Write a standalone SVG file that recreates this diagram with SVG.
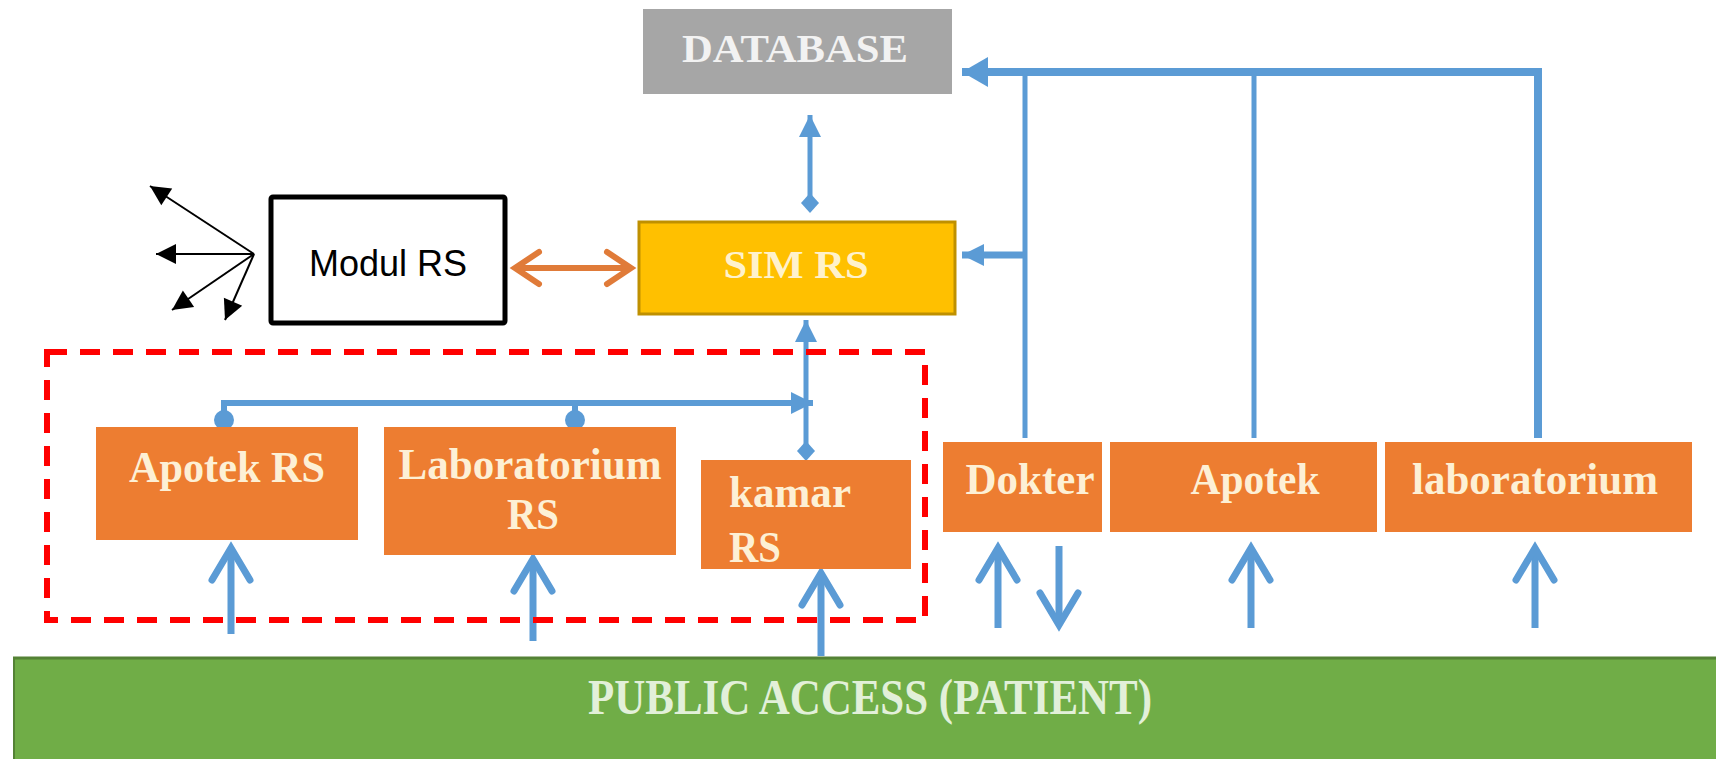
<svg xmlns="http://www.w3.org/2000/svg" width="1716" height="759" viewBox="0 0 1716 759">
<style>
.serif{font-family:"Liberation Serif","Times New Roman",serif;font-weight:bold}
.orange{fill:#ed7d31}
.otxt{fill:#fdf0d5;font-size:44px}
.blue{stroke:#5b9bd5;fill:none}
.up{stroke:#5b9bd5;stroke-width:7;fill:none;marker-end:url(#chev)}
.blk{stroke:#000;stroke-width:2;fill:none;marker-end:url(#btri)}
</style>
<defs>
<marker id="chev" markerUnits="userSpaceOnUse" markerWidth="80" markerHeight="80" viewBox="-40 -40 80 80" refX="0" refY="0" orient="auto" overflow="visible">
<path d="M-32,-19 L0,0 L-32,19" fill="none" stroke="#5b9bd5" stroke-width="7" stroke-linecap="round"/>
</marker>
<marker id="ochev" markerUnits="userSpaceOnUse" markerWidth="80" markerHeight="80" viewBox="-40 -40 80 80" refX="0" refY="0" orient="auto-start-reverse" overflow="visible">
<path d="M-24,-16 L0,0 L-24,16" fill="none" stroke="#e07b39" stroke-width="6" stroke-linecap="round"/>
</marker>
<marker id="tri" markerUnits="userSpaceOnUse" markerWidth="80" markerHeight="80" viewBox="-40 -40 80 80" refX="0" refY="0" orient="auto" overflow="visible">
<path d="M-26,-15 L0,0 L-26,15 Z" fill="#5b9bd5"/>
</marker>
<marker id="stri" markerUnits="userSpaceOnUse" markerWidth="60" markerHeight="60" viewBox="-30 -30 60 60" refX="0" refY="0" orient="auto" overflow="visible">
<path d="M-22,-11 L0,0 L-22,11 Z" fill="#5b9bd5"/>
</marker>
<marker id="dia" markerUnits="userSpaceOnUse" markerWidth="40" markerHeight="40" viewBox="-20 -20 40 40" refX="0" refY="0" orient="auto" overflow="visible">
<path d="M-10,0 L0,-9 L10,0 L0,9 Z" fill="#5b9bd5"/>
</marker>
<marker id="btri" markerUnits="userSpaceOnUse" markerWidth="40" markerHeight="40" viewBox="-20 -20 40 40" refX="0" refY="0" orient="auto" overflow="visible">
<path d="M-20,-10 L0,0 L-20,10 Z" fill="#000"/>
</marker>
</defs>
<rect width="1716" height="759" fill="#fff"/>

<g id="public-access">
<rect x="13" y="657" width="1703" height="102" fill="#70ad47"/>
<line x1="13" y1="658" x2="1716" y2="658" stroke="#548235" stroke-width="3"/>
<line x1="14" y1="657" x2="14" y2="759" stroke="#548235" stroke-width="2"/>
<text class="serif" x="870" y="714" font-size="50" fill="#e2f0d9" text-anchor="middle" textLength="564" lengthAdjust="spacingAndGlyphs">PUBLIC ACCESS (PATIENT)</text>
</g>

<g id="connectors">
<!-- DB to SIM -->
<line class="blue" x1="810" y1="203" x2="810" y2="115" stroke-width="5" marker-end="url(#stri)" marker-start="url(#dia)"/>
<!-- top bus into DATABASE -->
<polyline class="blue" points="1538,438 1538,72 962,72" stroke-width="8" marker-end="url(#tri)"/>
<line class="blue" x1="1025" y1="72" x2="1025" y2="438" stroke-width="5"/>
<line class="blue" x1="1254" y1="72" x2="1254" y2="438" stroke-width="5"/>
<line class="blue" x1="1025" y1="255" x2="962" y2="255" stroke-width="7" marker-end="url(#stri)"/>
<!-- Modul RS <-> SIM RS -->
<line x1="515" y1="268" x2="631" y2="268" stroke="#e07b39" stroke-width="6" marker-start="url(#ochev)" marker-end="url(#ochev)"/>
<!-- black fan arrows -->
<line class="blk" x1="254" y1="254" x2="150" y2="186"/>
<line class="blk" x1="254" y1="254" x2="156" y2="254"/>
<line class="blk" x1="254" y1="254" x2="172" y2="310"/>
<line class="blk" x1="254" y1="254" x2="225" y2="320"/>
<!-- internal bus -->
<polyline class="blue" points="224,420 224,403 813,403" stroke-width="6" marker-end="url(#stri)"/>
<line class="blue" x1="575" y1="420" x2="575" y2="403" stroke-width="6"/>
<circle cx="224" cy="420" r="10" fill="#5b9bd5"/>
<circle cx="575" cy="420" r="10" fill="#5b9bd5"/>
<line class="blue" x1="806" y1="451" x2="806" y2="320" stroke-width="5" marker-start="url(#dia)" marker-end="url(#stri)"/>
<!-- up arrows from public -->
<line class="up" x1="231" y1="634" x2="231" y2="548"/>
<line class="up" x1="533" y1="641" x2="533" y2="559"/>
<line class="up" x1="821" y1="656" x2="821" y2="573"/>
<line class="up" x1="998" y1="628" x2="998" y2="548"/>
<line class="up" x1="1059" y1="546" x2="1059" y2="625"/>
<line class="up" x1="1251" y1="628" x2="1251" y2="548"/>
<line class="up" x1="1535" y1="628" x2="1535" y2="548"/>
</g>

<g id="database">
<rect x="643" y="9" width="309" height="85" fill="#a6a6a6"/>
<text class="serif" x="795" y="62" font-size="39" fill="#f2f2f2" text-anchor="middle" textLength="226" lengthAdjust="spacingAndGlyphs">DATABASE</text>
</g>

<g id="sim-rs">
<rect x="639" y="222" width="316" height="92" fill="#ffc000" stroke="#bf9000" stroke-width="3"/>
<text class="serif" x="796" y="278" font-size="40" fill="#fff2cc" text-anchor="middle" textLength="145" lengthAdjust="spacingAndGlyphs">SIM RS</text>
</g>

<g id="modul-rs">
<rect x="271" y="197" width="234" height="126" fill="#fff" stroke="#000" stroke-width="5" rx="2"/>
<text x="388" y="276" font-family="Liberation Sans, Arial, sans-serif" font-size="36" fill="#000" text-anchor="middle">Modul RS</text>
</g>

<g id="group-border">
<rect x="47" y="352" width="878" height="268" fill="none" stroke="#ff0000" stroke-width="6" stroke-dasharray="20,13"/>
</g>

<g id="apotek-rs">
<rect class="orange" x="96" y="427" width="262" height="113"/>
<text class="serif otxt" x="227" y="482" text-anchor="middle" textLength="196" lengthAdjust="spacingAndGlyphs">Apotek RS</text>
</g>

<g id="laboratorium-rs">
<rect class="orange" x="384" y="427" width="292" height="128"/>
<text class="serif otxt" x="530" y="479" text-anchor="middle" textLength="263" lengthAdjust="spacingAndGlyphs">Laboratorium</text>
<text class="serif otxt" x="533" y="529" text-anchor="middle" textLength="52" lengthAdjust="spacingAndGlyphs">RS</text>
</g>

<g id="kamar-rs">
<rect class="orange" x="701" y="460" width="210" height="109"/>
<text class="serif otxt" x="729" y="507" textLength="122" lengthAdjust="spacingAndGlyphs">kamar</text>
<text class="serif otxt" x="729" y="562" textLength="52" lengthAdjust="spacingAndGlyphs">RS</text>
</g>

<g id="dokter">
<rect class="orange" x="943" y="442" width="159" height="90"/>
<text class="serif otxt" x="1030" y="494" text-anchor="middle" textLength="129" lengthAdjust="spacingAndGlyphs">Dokter</text>
</g>

<g id="apotek">
<rect class="orange" x="1110" y="442" width="267" height="90"/>
<text class="serif otxt" x="1255" y="494" text-anchor="middle" textLength="129" lengthAdjust="spacingAndGlyphs">Apotek</text>
</g>

<g id="laboratorium">
<rect class="orange" x="1385" y="442" width="307" height="90"/>
<text class="serif otxt" x="1535" y="494" text-anchor="middle" textLength="246" lengthAdjust="spacingAndGlyphs">laboratorium</text>
</g>
</svg>
